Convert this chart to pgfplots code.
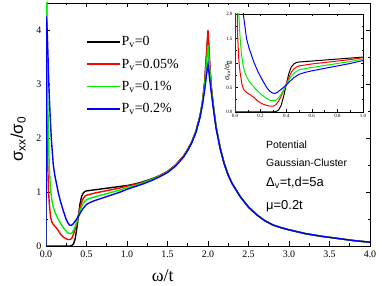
\documentclass[border=0pt]{standalone}
\usepackage{pgfplots}
\usepackage{pgfplotstable}
\pgfplotsset{compat=1.18}
\usepackage{fontspec}
\setmainfont{Liberation Serif}
\setsansfont{Liberation Sans}
\definecolor{cgreen}{RGB}{0,240,0}
\definecolor{cblue}{RGB}{0,0,255}
\definecolor{cred}{RGB}{255,0,0}

\pgfplotstableread{
x y
0 0
0.30 0
0.32 0.01
0.34 0.04
0.36 0.13
0.38 0.32
0.40 0.55
0.42 0.78
0.44 0.92
0.46 0.98
0.48 1.01
0.50 1.02
0.60 1.04
0.70 1.06
0.80 1.08
0.90 1.10
1.00 1.12
1.1 1.15
1.2 1.19
1.3 1.24
1.4 1.30
1.5 1.38
1.6 1.50
1.7 1.67
1.75 1.79
1.8 1.93
1.85 2.12
1.9 2.40
1.93 2.65
1.96 3.05
1.98 3.50
2.00 3.95
2.02 3.40
2.04 2.95
2.07 2.55
2.10 2.20
2.15 1.82
2.2 1.53
2.25 1.31
2.3 1.15
2.4 0.91
2.5 0.72
2.6 0.58
2.7 0.47
2.8 0.39
2.9 0.34
3.0 0.30
3.2 0.23
3.4 0.18
3.6 0.14
3.8 0.10
4.0 0.07
}\blackdata

\pgfplotstableread{
x y
0 0
0.003 6
0.01 3.2
0.02 1.6
0.03 1.05
0.04 0.80
0.055 0.55
0.07 0.45
0.09 0.40
0.12 0.35
0.15 0.29
0.18 0.22
0.21 0.17
0.24 0.14
0.27 0.12
0.30 0.12
0.32 0.15
0.34 0.22
0.36 0.32
0.38 0.44
0.40 0.57
0.42 0.70
0.44 0.81
0.46 0.88
0.48 0.92
0.50 0.94
0.60 0.98
0.70 1.01
0.80 1.04
0.90 1.07
1.00 1.11
1.1 1.14
1.2 1.18
1.3 1.23
1.4 1.30
1.5 1.38
1.6 1.50
1.7 1.67
1.75 1.79
1.8 1.93
1.85 2.12
1.9 2.40
1.93 2.65
1.96 3.05
1.98 3.50
2.00 4.00
2.02 3.40
2.04 2.95
2.07 2.55
2.10 2.20
2.15 1.82
2.2 1.53
2.25 1.31
2.3 1.15
2.4 0.91
2.5 0.72
2.6 0.58
2.7 0.47
2.8 0.39
2.9 0.34
3.0 0.30
3.2 0.23
3.4 0.18
3.6 0.14
3.8 0.10
4.0 0.07
}\reddata

\pgfplotstableread{
x y
0 0
0.003 7
0.01 4.5
0.02 2.9
0.03 2.0
0.04 1.5
0.05 1.2
0.06 1.0
0.073 0.84
0.09 0.72
0.117 0.60
0.15 0.50
0.18 0.42
0.21 0.35
0.24 0.29
0.27 0.24
0.30 0.23
0.32 0.24
0.34 0.29
0.36 0.36
0.38 0.45
0.40 0.55
0.42 0.65
0.44 0.73
0.46 0.79
0.48 0.83
0.50 0.86
0.60 0.91
0.70 0.95
0.80 0.99
0.90 1.03
1.00 1.08
1.1 1.12
1.2 1.17
1.3 1.23
1.4 1.29
1.5 1.37
1.6 1.49
1.7 1.66
1.75 1.78
1.8 1.92
1.85 2.11
1.9 2.39
1.93 2.63
1.96 3.00
1.98 3.35
2.00 3.72
2.02 3.30
2.04 2.92
2.07 2.53
2.10 2.19
2.15 1.81
2.2 1.52
2.25 1.31
2.3 1.15
2.4 0.91
2.5 0.72
2.6 0.58
2.7 0.47
2.8 0.39
2.9 0.34
3.0 0.30
3.2 0.23
3.4 0.18
3.6 0.14
3.8 0.10
4.0 0.07
}\greendata

\pgfplotstableread{
x y
0 0
0.003 4.25
0.01 4.15
0.02 3.75
0.035 3.0
0.05 2.45
0.065 2.0
0.09 1.5
0.11 1.3
0.13 1.15
0.15 1.0
0.18 0.82
0.21 0.67
0.23 0.58
0.25 0.49
0.27 0.43
0.29 0.39
0.31 0.38
0.33 0.40
0.36 0.46
0.40 0.55
0.43 0.63
0.46 0.70
0.50 0.77
0.55 0.81
0.60 0.84
0.70 0.89
0.80 0.94
0.90 0.99
1.00 1.05
1.1 1.10
1.2 1.15
1.3 1.21
1.4 1.28
1.5 1.36
1.6 1.48
1.7 1.65
1.75 1.77
1.8 1.91
1.85 2.10
1.9 2.37
1.93 2.60
1.96 2.90
1.98 3.15
2.00 3.37
2.02 3.10
2.04 2.85
2.07 2.50
2.10 2.18
2.15 1.80
2.2 1.52
2.25 1.31
2.3 1.15
2.4 0.91
2.5 0.72
2.6 0.58
2.7 0.47
2.8 0.39
2.9 0.34
3.0 0.30
3.2 0.23
3.4 0.18
3.6 0.14
3.8 0.10
4.0 0.07
}\bluedata

\begin{document}
\begin{tikzpicture}
\useasboundingbox (0,0) rectangle (382bp,286bp);
\begin{axis}[
  at={(46bp,40bp)}, anchor=south west,
  scale only axis, width=324bp, height=243bp,
  xmin=0, xmax=4, ymin=0, ymax=4.5,
  xtick={0,0.5,...,4}, ytick={0,1,2,3,4},
  minor x tick num=1, minor y tick num=1,
  tick align=inside,
  major tick length=4.5bp, minor tick length=2.5bp,
  xticklabel style={/pgf/number format/fixed,/pgf/number format/fixed zerofill,/pgf/number format/precision=1, yshift=-1.5bp},
  yticklabel style={xshift=-1bp},
  /pgf/number format/assume math mode=true,
  tick label style={font=\fontsize{10}{12}\selectfont},
  axis line style={line width=0.8bp},
  every tick/.style={line width=0.8bp, black},
  xlabel={ω/t},
  xlabel style={font=\fontsize{18}{20}\selectfont, at={(axis description cs:0.36,0)}, anchor=center, yshift=-30bp},
  ylabel={\sffamily σ\textsubscript{xx}/σ\textsubscript{0}},
  ylabel style={font=\fontsize{17}{19}\selectfont, at={(axis description cs:-0.086,0.44)}, anchor=center},
  legend style={draw=none, fill=none, at={(axis description cs:0.114,0.875)}, anchor=north west,
    font=\fontsize{14}{16}\selectfont, row sep=9.5bp, nodes={inner sep=1bp}},
  legend cell align=left,
  legend image code/.code={\draw[#1, line width=1.6bp] (0bp,0bp) -- (33bp,0bp);},
  every axis plot/.append style={line width=1.4bp},
]
\addplot[black] table[x=x,y=y] {\blackdata};
\addplot[cred] table[x=x,y=y] {\reddata};
\addplot[cgreen] table[x=x,y=y] {\greendata};
\addplot[cblue] table[x=x,y=y] {\bluedata};
\legend{P\textsubscript{v}=0, P\textsubscript{v}=0.05\%, P\textsubscript{v}=0.1\%, P\textsubscript{v}=0.2\%}
\node[anchor=west, inner sep=0, font=\sffamily\fontsize{10.5}{12}\selectfont] at (axis cs:2.716,1.88) {Potential};
\node[anchor=west, inner sep=0, font=\sffamily\fontsize{10.5}{12}\selectfont] at (axis cs:2.716,1.545) {Gaussian-Cluster};
\node[anchor=west, inner sep=0, font=\sffamily\fontsize{13}{15}\selectfont] at (axis cs:2.716,1.17) {Δ\textsubscript{v}=t,d=5a};
\node[anchor=west, inner sep=0, font=\sffamily\fontsize{13}{15}\selectfont] at (axis cs:2.716,0.73) {μ=0.2t};
\end{axis}

\begin{axis}[
  at={(235bp,174bp)}, anchor=south west,
  scale only axis, width=128bp, height=98bp,
  xmin=0, xmax=1, ymin=0, ymax=2,
  xtick={0,0.2,...,1}, ytick={0,0.5,...,2},
  minor x tick num=1, minor y tick num=1,
  tick align=inside,
  major tick length=2.5bp, minor tick length=1.5bp,
  xticklabel style={/pgf/number format/fixed,/pgf/number format/fixed zerofill,/pgf/number format/precision=1},
  yticklabel style={/pgf/number format/fixed,/pgf/number format/fixed zerofill,/pgf/number format/precision=1},
  /pgf/number format/assume math mode=true,
  tick label style={font=\fontsize{5}{6}\selectfont},
  xticklabel style={yshift=1bp},
  yticklabel style={xshift=1bp},
  axis line style={line width=0.6bp},
  every tick/.style={line width=0.5bp, black},
  ylabel={\sffamily σ\textsubscript{xx}/σ\textsubscript{0}},
  ylabel style={font=\fontsize{7}{8}\selectfont, at={(axis description cs:-0.06,0.42)}, anchor=center},
  every axis plot/.append style={line width=1bp},
  axis background/.style={fill=white},
]
\addplot[black] table[x=x,y=y] {\blackdata};
\addplot[cred] table[x=x,y=y] {\reddata};
\addplot[cgreen] table[x=x,y=y] {\greendata};
\addplot[cblue] table[x=x,y=y] {\bluedata};
\node[anchor=north, inner sep=0, font=\fontsize{8}{9}\selectfont] at (axis cs:0.485,-0.03) {ω/t};
\end{axis}
\end{tikzpicture}
\end{document}
